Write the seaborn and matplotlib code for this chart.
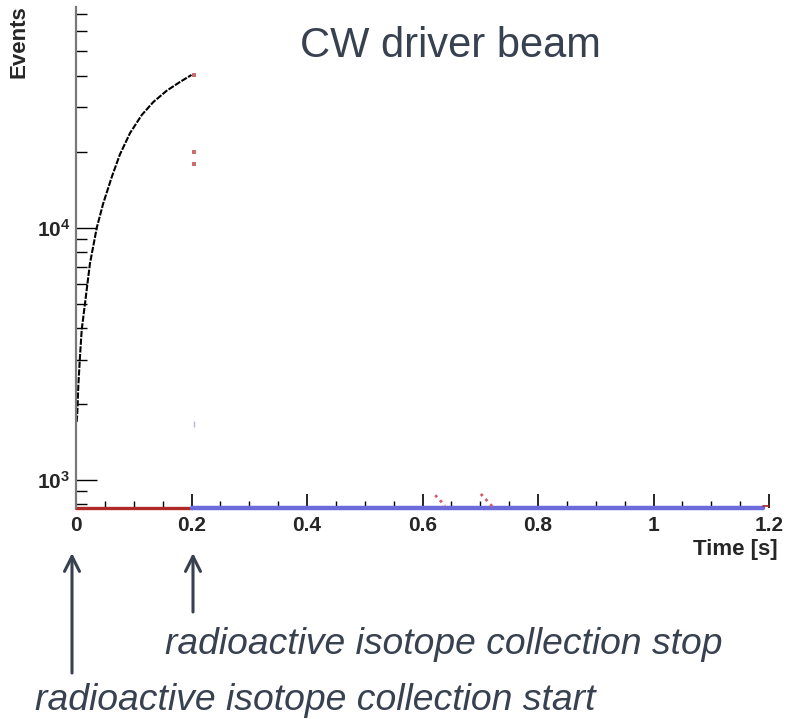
import matplotlib
matplotlib.use("Agg")
import matplotlib.pyplot as plt
import matplotlib.ticker as mticker
import seaborn as sns
import numpy as np
import pandas as pd

# ---- data ----
time_s = [0.0012, 0.0023, 0.004, 0.0069, 0.0099, 0.0156, 0.0242, 0.036, 0.047,
          0.0618, 0.076, 0.0935, 0.114, 0.134, 0.157, 0.18, 0.2]
events = [1700, 1850, 2360, 3090, 3940, 5010, 7220, 10000, 12450,
          15850, 19500, 23700, 28000, 31500, 34900, 37800, 40300]

stop_t = [0.204, 0.204, 0.204]
stop_events = [40300, 19950, 17870]
faint_t = [0.205]
faint_events = [1667]

decay1_t = [0.622, 0.639]
decay1_events = [870, 790]
decay2_t = [0.701, 0.722]
decay2_events = [880, 780]

collect_t = [0.0, 0.2]
collect_events = [776, 776]
wait_t = [0.2, 1.19]
wait_events = [776, 776]
end_t = [1.19, 1.2]
end_events = [785, 785]

x_ticks = [0, 0.2, 0.4, 0.6, 0.8, 1.0, 1.2]
x_ticklabels = ["0", "0.2", "0.4", "0.6", "0.8", "1", "1.2"]
y_ticks = [1e3, 1e4]
y_ticklabels = [r"$10^{3}$", r"$10^{4}$"]

title_text = "CW driver beam"
stop_text = "radioactive isotope collection stop"
start_text = "radioactive isotope collection start"

# ---- style ----
sns.set_theme(style="white")
plt.rcParams["font.family"] = ["Liberation Sans", "DejaVu Sans"]
plt.rcParams["mathtext.fontset"] = "custom"
plt.rcParams["mathtext.rm"] = "Liberation Sans:bold"
plt.rcParams["mathtext.it"] = "Liberation Sans:bold"
plt.rcParams["mathtext.bf"] = "Liberation Sans:bold"

W, H = 785, 719
fig = plt.figure(figsize=(W / 100, H / 100), dpi=100)
ax = fig.add_axes([76 / W, 1 - 508 / H, (769 - 76) / W, (508 - 7) / H])

slate = "#37414f"

sns.lineplot(x=time_s, y=events, ax=ax, color="black", lw=1.5,
             linestyle=(0, (3, 0.7)), sort=False)
sns.lineplot(x=collect_t, y=collect_events, ax=ax, color="#b02828", lw=2.4,
             clip_on=False)
sns.lineplot(x=wait_t, y=wait_events, ax=ax, color="#6b6bdc", lw=3.2,
             clip_on=False)
sns.lineplot(x=end_t, y=end_events, ax=ax, color="#a02020", lw=1.2,
             clip_on=False)
sns.scatterplot(x=stop_t, y=stop_events, ax=ax, color="#c04848", s=8,
                marker="s", linewidth=0, alpha=0.8, clip_on=False)
sns.scatterplot(x=faint_t, y=faint_events, ax=ax, color="#b8b8d0", s=20,
                marker="|", linewidths=1, clip_on=False)
sns.lineplot(x=decay1_t, y=decay1_events, ax=ax, color="#d06070", lw=2,
             linestyle=(0, (1, 1.5)))
sns.lineplot(x=decay2_t, y=decay2_events, ax=ax, color="#d06070", lw=2,
             linestyle=(0, (1, 1.5)))

ax.set_yscale("log")
ax.set_xlim(0, 1.2)
ax.set_ylim(774, 74940)

for s in ["top", "right"]:
    ax.spines[s].set_visible(False)
ax.spines["left"].set_color("#7a7a7a")
ax.spines["left"].set_linewidth(1.6)
ax.spines["bottom"].set_visible(False)

ax.set_xticks(x_ticks)
ax.set_xticklabels(x_ticklabels, fontsize=15, fontweight="bold")
ax.xaxis.set_minor_locator(mticker.MultipleLocator(0.05))
ax.set_yticks(y_ticks)
ax.set_yticklabels(y_ticklabels, fontsize=15)
ax.yaxis.set_minor_locator(mticker.LogLocator(base=10, subs=np.arange(2, 10)))
ax.yaxis.set_minor_formatter(mticker.NullFormatter())

ax.tick_params(axis="x", which="major", direction="in", length=10, width=1.2,
               color="black", pad=6, bottom=True)
ax.tick_params(axis="x", which="minor", direction="in", length=5, width=1.0,
               color="black", bottom=True)
ax.tick_params(axis="y", which="major", direction="in", length=15, width=1.0,
               color="black", pad=4, left=True)
ax.tick_params(axis="y", which="minor", direction="in", length=8, width=1.0,
               color="black", left=True)
ax.set_xlabel("")
ax.set_ylabel("")

fig.text(778 / W, 1 - 549 / H, "Time [s]", ha="right", va="center",
         fontsize=16, fontweight="bold")
fig.text(19 / W, 1 - 5 / H, "Events", ha="center", va="top", rotation=90,
         fontsize=16, fontweight="bold")

fig.text(450 / W, 1 - 46 / H, title_text, ha="center", va="center",
         fontsize=30, color=slate)
fig.text(165 / W, 1 - 645 / H, stop_text, ha="left", va="center",
         fontsize=26.8, style="italic", color=slate)
fig.text(35 / W, 1 - 700 / H, start_text, ha="left", va="center",
         fontsize=26.9, style="italic", color=slate)

for x0, y0 in [(72, 673), (193, 612)]:
    ax.annotate("", xy=(x0 / W, 1 - 553 / H), xycoords="figure fraction",
                xytext=(x0 / W, 1 - y0 / H), textcoords="figure fraction",
                arrowprops=dict(arrowstyle="->,head_length=0.9,head_width=0.45",
                                color=slate, lw=2.2, shrinkA=0, shrinkB=0),
                annotation_clip=False)

fig.savefig("out.png", dpi=100)
